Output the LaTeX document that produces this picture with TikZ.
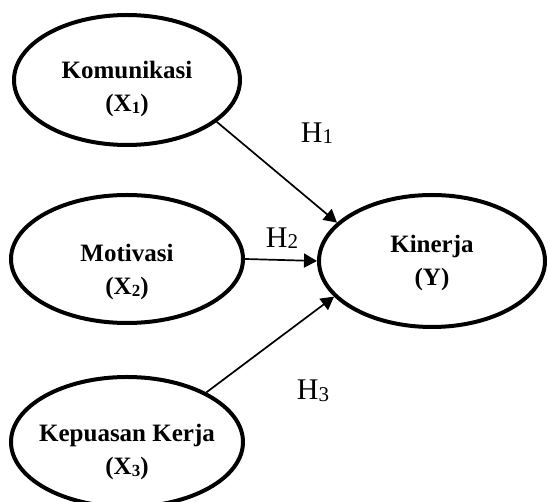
\documentclass[tikz,border=0pt]{standalone}
\usepackage{fontspec}
\setmainfont{Liberation Serif}
\usepackage{tikz}
\usetikzlibrary{shapes.geometric,arrows.meta,positioning}
% low subscript: size, text
\newcommand{\lowsub}[2]{\raisebox{-0.8pt}{\fontsize{#1}{#1}\selectfont #2}}
\tikzset{
    % Variable ellipse
    varnode/.style={
        ellipse,
        draw=black,
        fill=white,
        line width=2pt,
        inner sep=0pt,
        minimum width=113pt,
        minimum height=65pt
    },
    % Text inside the ellipse
    vartext/.style={
        align=center,
        inner sep=0pt,
        font=\fontsize{12.5}{16.5}\selectfont\bfseries
    },
    % Hypothesis label
    hyplabel/.style={
        inner sep=0pt,
        font=\fontsize{15}{18}\selectfont
    },
    % Arrow style
    myarrow/.style={
        -{Triangle[length=6.5pt,width=7pt]},
        line width=0.85pt,
        draw=black
    }
}
\begin{document}
\begin{tikzpicture}[x=0.5pt, y=-0.5pt]
    \useasboundingbox (0,0) rectangle (548,502);

    \node[varnode] (kom) at (127,80) {};
    \node[varnode, minimum width=116pt, minimum height=64pt] (mot) at (127,259) {};
    \node[varnode, minimum width=116pt, minimum height=65pt] (kep) at (127,442) {};
    \node[varnode, minimum height=66pt] (kin) at (432,261) {};

    \node[vartext] (kom-t) at (127,89) {Komunikasi\\(X\lowsub{8.5}{1})};
    \node[vartext] (mot-t) at (127,272) {Motivasi\\(X\lowsub{8.5}{2})};
    \node[vartext] (kep-t) at (127,452) {Kepuasan Kerja\\(X\lowsub{8.5}{3})};
    \node[vartext] (kin-t) at (432,263) {Kinerja\\(Y)};

    \node[hyplabel] (h1) at (317,133) {H\lowsub{10.5}{1}};
    \node[hyplabel] (h2) at (282,238) {H\lowsub{10.5}{2}};
    \node[hyplabel] (h3) at (313,391) {H\lowsub{10.5}{3}};

    \draw[myarrow] (kom.-25) -- (kin.158);
    \draw[myarrow] (mot.east) -- (kin.west);
    \draw[myarrow] (kep.32) -- (kin.-160);
\end{tikzpicture}
\end{document}
